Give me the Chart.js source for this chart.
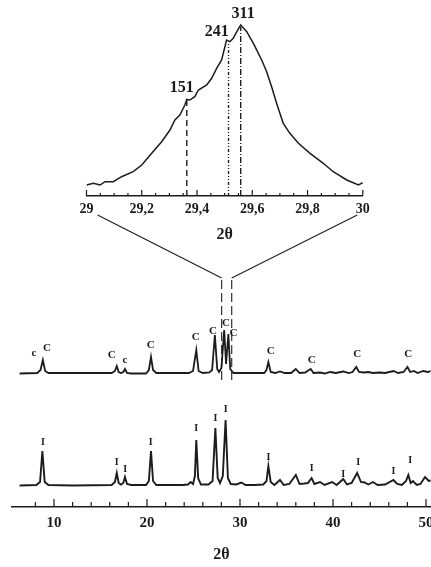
<!DOCTYPE html>
<html>
<head>
<meta charset="utf-8">
<script src="https://cdn.jsdelivr.net/npm/chart.js"></script>
<style>
  html, body { margin: 0; padding: 0; background: #fff; overflow: hidden; }
  #wrap { position: relative; width: 431px; height: 567px; overflow: hidden; }
  canvas { position: absolute; left: 0; top: 0; }
</style>
</head>
<body>
<div id="wrap">
  <canvas id="mainChart" width="445" height="567"></canvas>
  <canvas id="zoomChart" width="431" height="250"></canvas>
</div>
<script>
// zoomed region 29-30 deg
const zoomTheta = [29.0, 29.025, 29.049, 29.067, 29.097, 29.127, 29.169, 29.2, 29.236, 29.272,
  29.302, 29.32, 29.338, 29.356, 29.363, 29.374, 29.392, 29.405, 29.435, 29.453,
  29.471, 29.489, 29.507, 29.519, 29.531, 29.544, 29.558, 29.58, 29.604, 29.634,
  29.652, 29.67, 29.688, 29.712, 29.736, 29.767, 29.809, 29.857, 29.893, 29.942, 29.984, 30.0];
const zoomCounts = [11, 12.7, 11, 14.3, 14.3, 19.3, 24.3, 31, 42.7, 54.3,
  66, 76, 81, 91, 96.7, 96, 99.3, 106, 111, 117.7,
  127.7, 136, 156, 154.3, 157.7, 164.3, 171, 164.3, 152.7, 136,
  124.3, 109.3, 92.7, 72.7, 62.7, 52.7, 42.7, 32.7, 24.3, 16, 11, 13.3];
const hklNames = ['151', '241', '311'];
const hklTheta = [29.363, 29.514, 29.558];
const hklTops = [96, 154, 169];
const hklLabelTheta = [29.345, 29.471, 29.567];
const hklLabelY = [108, 164, 182];
const zoomTicks = [29, 29.2, 29.4, 29.6, 29.8, 30];
const zoomMinorTicks = [29.05, 29.1, 29.15, 29.25, 29.3, 29.35, 29.45, 29.5, 29.55, 29.65, 29.7, 29.75, 29.85, 29.9, 29.95];

// full patterns, counts above each pattern's own baseline
const thetaC = [6.3, 8.2, 8.55, 8.8, 9.05, 9.4, 16.2, 16.55, 16.75, 16.95, 17.2, 17.45, 17.63, 17.85, 18.3,
  19.9, 20.2, 20.43, 20.65, 21.0, 24.5, 24.95, 25.3, 25.55, 26.0, 26.7, 27.0, 27.3, 27.55, 27.75,
  28.0, 28.3, 28.5, 28.75, 28.95, 29.3, 29.8, 32.6, 32.85, 33.05, 33.3, 33.8, 34.3, 34.8, 35.5,
  36.0, 36.4, 37.0, 37.6, 37.9, 38.6, 39.1, 39.7, 40.3, 41.1, 41.7, 42.1, 42.5, 42.8, 43.3,
  43.8, 44.3, 45.0, 45.6, 46.5, 47.0, 47.6, 48.0, 48.3, 48.7, 49.1, 49.7, 50.2, 50.8];
const countsC = [0.5, 1, 4, 14, 3, 1, 1, 3, 8, 2, 1, 2, 5, 1, 0.5,
  0.5, 4, 17, 4, 1, 1, 3, 24, 3, 1, 1.5, 4, 39, 5, 2,
  6, 44, 10, 40, 5, 1, 1, 1, 4, 12, 2, 1, 2.5, 1, 1,
  5, 1, 1.5, 5, 1, 1.5, 0.5, 2, 1, 2.5, 1, 2, 7, 2, 1.5,
  2, 1, 1.5, 1, 3, 1, 2, 7, 2, 3, 1, 3, 2, 4];
const thetaI = [6.3, 8.1, 8.5, 8.75, 9.0, 9.4, 12.0, 16.2, 16.55, 16.75, 16.95, 17.2, 17.45, 17.63, 17.85, 18.3,
  19.9, 20.2, 20.43, 20.65, 21.0, 23.8, 24.4, 24.7, 24.95, 25.15, 25.3, 25.5, 25.8,
  26.6, 27.05, 27.35, 27.6, 27.85, 28.15, 28.45, 28.7, 29.0, 29.6, 30.15, 30.6, 31.5,
  32.5, 32.85, 33.05, 33.3, 33.7, 34.3, 34.7, 35.3, 36.0, 36.4, 36.9, 37.3, 37.7, 38.0,
  38.6, 39.1, 39.9, 40.4, 41.1, 41.5, 42.0, 42.6, 43.0, 43.4, 43.8, 44.3, 44.8, 45.6,
  46.5, 46.9, 47.4, 47.85, 48.1, 48.35, 48.6, 49.0, 49.4, 49.9, 50.3, 50.8];
const countsI = [0.5, 1, 4, 35, 4, 1, 0.5, 1, 4, 13, 3, 1.5, 3, 9, 2, 1,
  1, 5, 35, 5, 1, 1, 1.5, 4, 2, 10, 46, 8, 1.5,
  1.5, 5, 58, 8, 3, 10, 66, 8, 2, 1.5, 3.5, 1, 1,
  1.5, 5, 20, 4, 1, 6, 1, 2, 11, 2, 2.5, 3, 8, 2,
  4, 1, 4, 1, 7, 1.5, 3, 13, 4, 3.5, 1.5, 4, 1, 1.5,
  6, 2, 1, 5, 11, 3, 5, 1, 2, 9, 5, 6];
const offsetC = 133;
const offsetI = 21;

const labelCText = ['c', 'C', 'C', 'c', 'C', 'C', 'C', 'C', 'C', 'C', 'C', 'C', 'C'];
const labelCTheta = [7.85, 9.25, 16.2, 17.63, 20.4, 25.25, 27.1, 28.5, 29.3, 33.3, 37.7, 42.6, 48.1];
const labelCY = [21, 26, 19, 14, 29, 37, 43, 51, 41, 23, 14, 20, 20];
const labelITheta = [8.8, 16.75, 17.65, 20.4, 25.3, 27.35, 28.45, 33.05, 37.7, 41.1, 42.7, 46.5, 48.3];
const labelIY = [44, 24, 17, 44, 58, 68, 77, 29, 18, 12, 24, 15, 26];

const mainTicks = [10, 20, 30, 40, 50];
const mainMinorTicks = [8, 12, 14, 16, 18, 22, 24, 26, 28, 32, 34, 36, 38, 42, 44, 46, 48];
const zoomEdges = [29.04, 29.98];   // where the guide lines leave the inset
const guideTheta = [28.03, 29.11];  // where they meet the full pattern

const ink = '#1c1c1c';
const serif = "'Liberation Serif', 'DejaVu Serif', serif";

const innerTicks = {
  id: 'innerTicks',
  afterDraw(chart, args, opts) {
    const ctx = chart.ctx, xs = chart.scales.x, y0 = chart.chartArea.bottom;
    ctx.save();
    ctx.strokeStyle = ink;
    ctx.lineWidth = 1.2;
    ctx.beginPath();
    opts.minor.forEach(v => { const px = xs.getPixelForValue(v); ctx.moveTo(px, y0); ctx.lineTo(px, y0 - opts.minorLen); });
    opts.major.forEach(v => { const px = xs.getPixelForValue(v); ctx.moveTo(px, y0); ctx.lineTo(px, y0 - opts.majorLen); });
    ctx.stroke();
    ctx.restore();
  }
};

const peakText = {
  id: 'peakText',
  afterDatasetsDraw(chart, args, opts) {
    const ctx = chart.ctx, xs = chart.scales.x, ys = chart.scales.y;
    ctx.save();
    ctx.fillStyle = ink;
    ctx.textAlign = 'center';
    ctx.textBaseline = 'middle';
    opts.groups.forEach(g => {
      ctx.font = g.font;
      g.x.forEach((t, i) => ctx.fillText(g.text[i], xs.getPixelForValue(t), ys.getPixelForValue(g.y[i] + g.offset)));
    });
    ctx.restore();
  }
};

function xy(xs, ys, off) {
  return xs.map((t, i) => ({ x: t, y: ys[i] + off }));
}

const zoomDashes = [[6, 4], [3, 2, 1, 2, 1, 2], [6, 2, 1, 2]];

const zoomChart = new Chart(document.getElementById('zoomChart'), {
  type: 'line',
  data: {
    datasets: [
      { data: xy(zoomTheta, zoomCounts, 0), borderColor: ink, borderWidth: 1.5, pointRadius: 0, tension: 0 }
    ].concat(hklTheta.map((t, i) => ({
      data: [{ x: t, y: 0 }, { x: t, y: hklTops[i] }],
      borderColor: ink, borderWidth: 1.4, borderDash: zoomDashes[i], pointRadius: 0
    })))
  },
  options: {
    responsive: false,
    animation: false,
    events: [],
    layout: { padding: { left: 86.5, right: 68.2, top: 10, bottom: 0 } },
    scales: {
      x: {
        type: 'linear', min: 29, max: 30,
        afterBuildTicks: s => { s.ticks = zoomTicks.map(v => ({ value: v })); },
        afterFit: s => { s.height = 54; },
        grid: { display: false },
        border: { display: true, color: ink, width: 1.5 },
        ticks: {
          padding: -3, color: ink, autoSkip: false, maxRotation: 0,
          font: { family: serif, size: 14, weight: 'bold' },
          callback: v => String(v).replace('.', ',')
        },
        title: { display: true, text: '2θ', color: ink, font: { family: serif, size: 16, weight: 'bold' }, padding: { top: 0, bottom: 6 } }
      },
      y: { display: false, min: 0, max: 186 }
    },
    plugins: {
      legend: { display: false },
      tooltip: { enabled: false },
      innerTicks: { major: zoomTicks, minor: zoomMinorTicks, majorLen: 6, minorLen: 3 },
      peakText: { groups: [{ font: 'bold 16px ' + serif, x: hklLabelTheta, y: hklLabelY, text: hklNames, offset: 0 }] }
    }
  },
  plugins: [innerTicks, peakText]
});

const zoomGuides = {
  id: 'zoomGuides',
  afterDraw(chart) {
    const ctx = chart.ctx, xs = chart.scales.x, ys = chart.scales.y;
    const zx = zoomChart.scales.x;
    const topY = zoomChart.chartArea.bottom + 19;
    const joinY = ys.getPixelForValue(229);
    ctx.save();
    ctx.strokeStyle = ink;
    ctx.lineWidth = 1.1;
    ctx.beginPath();
    zoomEdges.forEach((v, i) => {
      ctx.moveTo(zx.getPixelForValue(v), topY);
      ctx.lineTo(xs.getPixelForValue(guideTheta[i]), joinY);
    });
    ctx.stroke();
    ctx.restore();
  }
};

new Chart(document.getElementById('mainChart'), {
  type: 'line',
  data: {
    datasets: [
      { data: xy(thetaC, countsC, offsetC), borderColor: ink, borderWidth: 1.8, pointRadius: 0, tension: 0 },
      { data: xy(thetaI, countsI, offsetI), borderColor: ink, borderWidth: 1.9, pointRadius: 0, tension: 0 }
    ].concat(guideTheta.map(t => ({
      data: [{ x: t, y: 127 }, { x: t, y: 229 }],
      borderColor: ink, borderWidth: 1.1, borderDash: [9, 4], pointRadius: 0
    })))
  },
  options: {
    responsive: false,
    animation: false,
    events: [],
    layout: { padding: { left: 12.15, right: 14.35, top: 257, bottom: 0 } },
    scales: {
      x: {
        type: 'linear', min: 5.5, max: 50.5,
        afterBuildTicks: s => { s.ticks = mainTicks.map(v => ({ value: v })); },
        afterFit: s => { s.height = 60; },
        grid: { display: false },
        border: { display: true, color: ink, width: 1.5 },
        ticks: { padding: -1, color: ink, autoSkip: false, maxRotation: 0, font: { family: serif, size: 15, weight: 'bold' } },
        title: { display: true, text: '2θ', color: ink, font: { family: serif, size: 16, weight: 'bold' }, padding: { top: 0, bottom: 3 } }
      },
      y: { display: false, min: 0, max: 250 }
    },
    plugins: {
      legend: { display: false },
      tooltip: { enabled: false },
      innerTicks: { major: mainTicks, minor: mainMinorTicks, majorLen: 8, minorLen: 5 },
      peakText: {
        groups: [
          { font: 'bold 11px ' + serif, x: labelCTheta, y: labelCY, text: labelCText, offset: offsetC },
          { font: 'bold 10px ' + serif, x: labelITheta, y: labelIY, text: labelITheta.map(() => 'I'), offset: offsetI }
        ]
      }
    }
  },
  plugins: [innerTicks, peakText, zoomGuides]
});
</script>
</body>
</html>
